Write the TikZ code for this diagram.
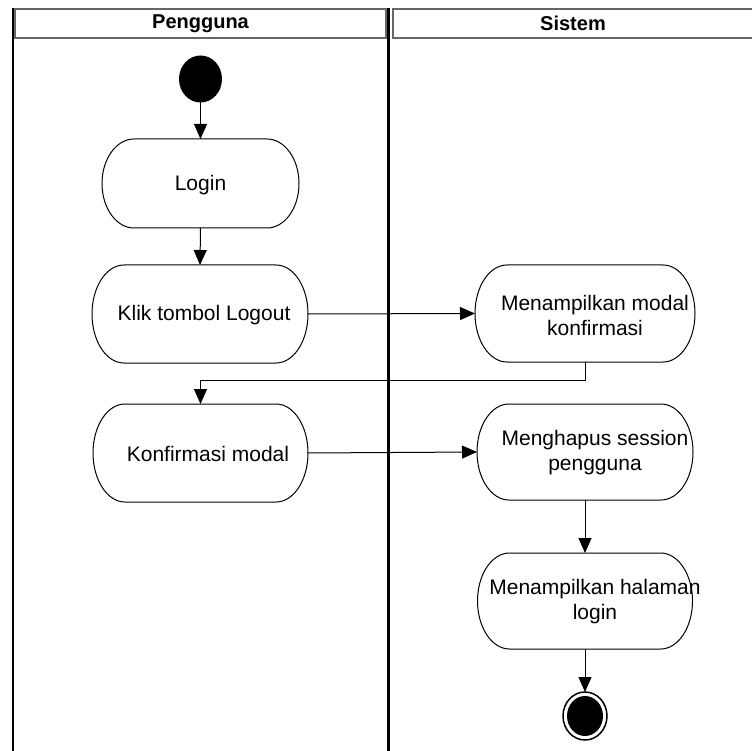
\documentclass[tikz,border=0pt]{standalone}
\usepackage{fontspec}
\setmainfont{Liberation Sans}
\usetikzlibrary{arrows.meta,shapes.geometric,calc}

% Activity outline: flat top and bottom, half-ellipse ends
\newcommand\actshape[1]{%
  \draw[actline] let \p1=(#1.north east), \p2=(#1.south west), \n1={(\y1-\y2)/2} in
    ([xshift=-32pt]#1.north east) arc[start angle=90, end angle=-90, x radius=32pt, y radius=\n1]
    -- ([xshift=32pt]#1.south west) arc[start angle=270, end angle=90, x radius=32pt, y radius=\n1]
    -- cycle;}

\begin{document}
\begin{tikzpicture}[x=1pt,y=-1pt,
  flow/.style={draw=black, line width=1pt, -{Triangle[length=15pt,width=13pt]}},
  actline/.style={draw=black, line width=1pt},
  lanebar/.style={draw=black, line cap=butt},
  hdr/.style={draw=black!60, line width=1.5pt, minimum height=29pt, inner sep=0pt, outer sep=0pt,
    font=\fontsize{20}{23}\selectfont\bfseries},
  actbox/.style={inner sep=0pt, outer sep=0pt},
  acttext/.style={align=center, inner sep=0pt, font=\fontsize{21}{25}\selectfont},
  startdot/.style={ellipse, fill=black, inner sep=0pt, outer sep=0pt, minimum width=43pt, minimum height=47pt},
  endring/.style={ellipse, draw=black, line width=1.5pt, inner sep=0pt, outer sep=0pt, minimum width=44pt, minimum height=48pt},
  endcore/.style={ellipse, fill=black, inner sep=0pt, minimum width=36pt, minimum height=40pt}]
\useasboundingbox (0,0) rectangle (752,751);

% swimlane headers
\node[hdr, minimum width=371pt] (hpengguna) at (200.5,23.5) {Pengguna};
\node[hdr, minimum width=360pt] (hsistem) at (573,23.5) {Sistem};

% swimlane borders
\draw[lanebar, line width=2pt] (13,8) -- (13,751);
\draw[lanebar, line width=3pt] (388.5,8) -- (388.5,751);

% start
\node[startdot] (start) at (200.5,79) {};

% activities, Pengguna lane
\node[actbox, minimum width=197pt, minimum height=89pt] (login) at (200.5,183.5) {};
\actshape{login}
\node[acttext] (logint) at (200.5,185) {Login};

\node[actbox, minimum width=216pt, minimum height=98pt] (klik) at (200,314) {};
\actshape{klik}
\node[acttext] (klikt) at (204,315) {Klik tombol Logout};

\node[actbox, minimum width=215pt, minimum height=98pt] (konf) at (200.5,453) {};
\actshape{konf}
\node[acttext] (konft) at (208,454) {Konfirmasi modal};

% activities, Sistem lane
\node[actbox, minimum width=220pt, minimum height=97pt] (modal) at (585,313.5) {};
\actshape{modal}
\node[acttext] (modalt) at (595,315) {Menampilkan modal\\konfirmasi};

\node[actbox, minimum width=216pt, minimum height=96pt] (hapus) at (585,452) {};
\actshape{hapus}
\node[acttext] (hapust) at (595,453) {Menghapus session\\pengguna};

\node[actbox, minimum width=215pt, minimum height=96pt] (halaman) at (585,601) {};
\actshape{halaman}
\node[acttext] (halamant) at (595,602) {Menampilkan halaman\\login};

% final node
\node[endring] (final) at (585,716) {};
\node[endcore] (finalcore) at (final.center) {};

% control flow
\draw[flow] (start.south) -- (login.north);
\draw[flow] (login.south) -- (klik.north);
\draw[flow] (klik.east) -- (modal.west);
\draw[flow] (modal.south) -- ++(0,18) -| (konf.north);
\draw[flow] (konf.east) -- (hapus.west);
\draw[flow] (hapus.south) -- (halaman.north);
\draw[flow] (halaman.south) -- (final.north);
\end{tikzpicture}
\end{document}
